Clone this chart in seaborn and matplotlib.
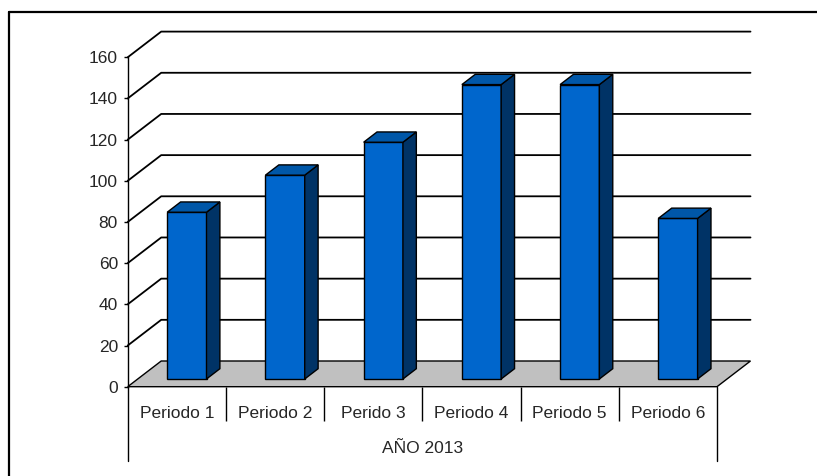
"""3D-style column chart (Excel look) for the 2013 periods."""
import matplotlib
matplotlib.use("Agg")
import matplotlib.pyplot as plt
import pandas as pd
import seaborn as sns
from matplotlib.lines import Line2D
from matplotlib.patches import Polygon
from matplotlib.transforms import Affine2D, IdentityTransform

periods = ["Periodo 1", "Periodo 2", "Perido 3", "Periodo 4", "Periodo 5", "Periodo 6"]
values = [81, 99, 115, 143, 143, 78]
y_ticks = [0, 20, 40, 60, 80, 100, 120, 140, 160]
group_label = "AÑO 2013"

W, H, DPI = 817, 476, 100
DX, DY = 33.5, 25.7          # floor depth in pixels
BAR_D0, BAR_D1 = 0.3, 0.7    # bar depth range (fraction of floor depth)
FRONT, SIDE, TOP = "#0066CC", "#003366", "#0057A8"
FS = 12.5

sns.set_style("white")
plt.rcParams["font.family"] = ["Liberation Sans", "DejaVu Sans"]

fig = plt.figure(figsize=(W / DPI, H / DPI), dpi=DPI)
ax = fig.add_axes([127.7 / W, (H - 386.7) / H, 589.3 / W, 329.4 / H])

df = pd.DataFrame({"periodo": periods, "valor": values})
sns.barplot(data=df, x="periodo", y="valor", ax=ax, width=0.4, color=FRONT,
            saturation=1, edgecolor="black", linewidth=1.0, zorder=5)
bars = list(ax.patches)
ax.set_xlim(-0.5, len(periods) - 0.5)
ax.set_ylim(0, 160)


def to_px(x, y, d):
    X, Y = ax.transData.transform((x, y))
    return (X + d * DX, Y + d * DY)


def face(pts, color, z):
    poly = Polygon([to_px(*p) for p in pts], closed=True, facecolor=color,
                   edgecolor="black", linewidth=1.0, transform=IdentityTransform(),
                   clip_on=False, zorder=z)
    ax.add_patch(poly)


xl, xr = ax.get_xlim()

# back wall / side wall gridlines
for v in y_ticks[1:]:
    pts = [to_px(xl, v, 0), to_px(xl, v, 1), to_px(xr, v, 1)]
    ax.add_line(Line2D([p[0] for p in pts], [p[1] for p in pts], color="black",
                       linewidth=1.3, transform=IdentityTransform(), clip_on=False,
                       zorder=1))

# floor
face([(xl, 0, 0), (xr, 0, 0), (xr, 0, 1), (xl, 0, 1)], "#C0C0C0", 2)

# bars: push the front face back and add the side and top faces
shift = Affine2D().translate(BAR_D0 * DX, BAR_D0 * DY)
for bar in bars:
    x0, h, w = bar.get_x(), bar.get_height(), bar.get_width()
    x1 = x0 + w
    bar.set_transform(ax.transData + shift)
    bar.set_clip_on(False)
    face([(x1, 0, BAR_D0), (x1, h, BAR_D0), (x1, h, BAR_D1), (x1, 0, BAR_D1)], SIDE, 6)
    face([(x0, h, BAR_D0), (x1, h, BAR_D0), (x1, h, BAR_D1), (x0, h, BAR_D1)], TOP, 6)

ax.set_xlim(xl, xr)
ax.set_ylim(0, 160)

# axes styling
ax.set_yticks(y_ticks)
ax.tick_params(axis="y", direction="out", length=3, width=1.0, color="black",
               pad=4, labelsize=FS, left=True)
ax.set_xticks(range(len(periods)))
ax.set_xticklabels(periods)
ax.tick_params(axis="x", which="major", length=0, pad=14, labelsize=FS)
ax.set_xticks([i + 0.5 for i in range(len(periods) - 1)], minor=True)
ax.tick_params(axis="x", which="minor", direction="out", length=24.7, width=1.0,
               color="black", bottom=True)
for xe in (xl, xr):
    ax.plot([xe, xe], [0, -74.3 / 329.4], transform=ax.get_xaxis_transform(),
            color="black", linewidth=1.0, clip_on=False)
ax.set_xlabel("")
ax.set_ylabel("")
for s in ("top", "right", "bottom"):
    ax.spines[s].set_visible(False)
ax.spines["left"].set_color("black")
ax.spines["left"].set_linewidth(1.0)
ax.set_facecolor("none")

ax.text(0.5, -61.6 / 329.4, group_label, transform=ax.transAxes, ha="center",
        va="center", fontsize=FS)

# chart area border (clipped on the right and bottom like the source)
fig.add_artist(Line2D([9 / W, 1], [1 - 12 / H] * 2, transform=fig.transFigure,
                      color="black", linewidth=1.6))
fig.add_artist(Line2D([9 / W] * 2, [0, 1 - 12 / H], transform=fig.transFigure,
                      color="black", linewidth=1.6))

fig.savefig("out.png", dpi=DPI)
